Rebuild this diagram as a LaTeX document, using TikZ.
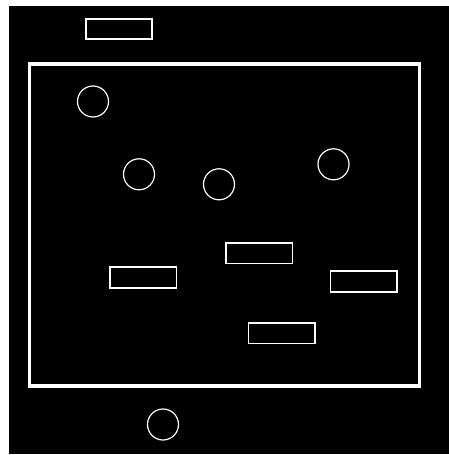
\documentclass[tikz,border=0pt]{standalone}
\begin{document}
\begin{tikzpicture}[x=1pt,y=-1pt,
  boxnode/.style={draw=white,line width=1.6pt,minimum width=66.5pt,minimum height=20.5pt,inner sep=0pt,outer sep=0pt},
  ringnode/.style={draw=white,line width=1.2pt,circle,minimum size=31pt,inner sep=0pt,outer sep=0pt}]
\useasboundingbox (0,0) rectangle (449,455);
\fill[white] (0,0) rectangle (449,455);
\fill[black] (9,6) rectangle (449,454);
\node[draw=white,line width=3.5pt,minimum width=390pt,minimum height=322pt,inner sep=0pt] (frame) at (224.6,225) {};
\node[boxnode] (r0) at (119,29) {};
\node[boxnode] (r1) at (143.3,277.5) {};
\node[boxnode] (r2) at (259.3,253.3) {};
\node[boxnode] (r3) at (363.7,281.5) {};
\node[boxnode] (r4) at (281.7,333.2) {};
\node[ringnode] (c1) at (93,101.5) {};
\node[ringnode] (c2) at (139,174.3) {};
\node[ringnode] (c3) at (219,184.3) {};
\node[ringnode] (c4) at (333.5,164.3) {};
\node[ringnode] (c5) at (163,424.5) {};
\end{tikzpicture}
\end{document}
